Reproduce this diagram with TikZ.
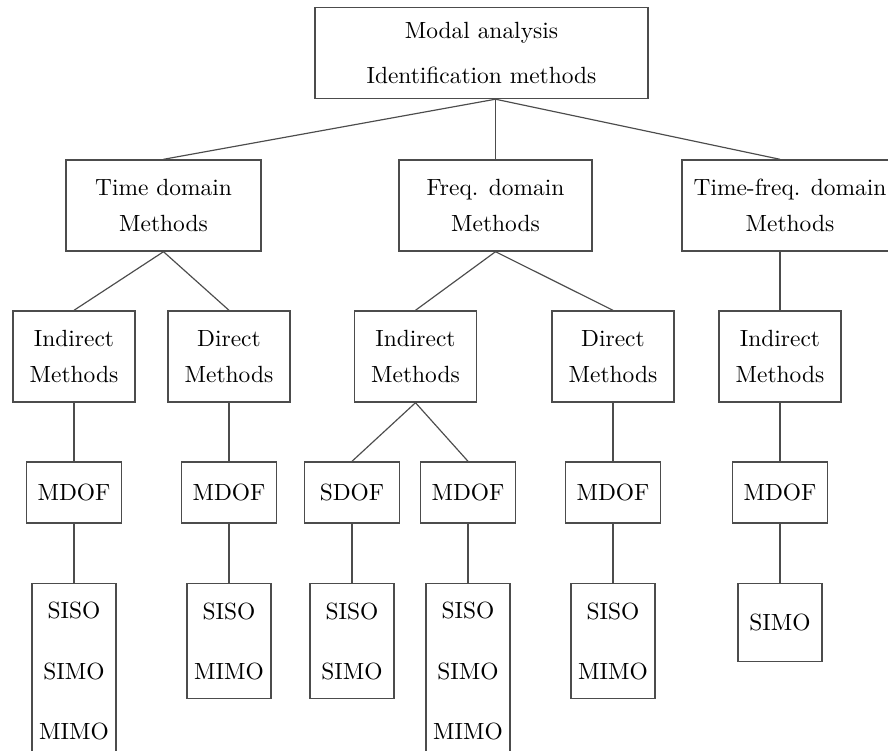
\documentclass[tikz,border=0pt]{standalone}
\begin{document}
\begin{tikzpicture}[x=0.015cm,y=-0.015cm,
    box/.style={draw=black!70,line width=0.6pt,align=center,inner sep=0pt},
    link/.style={draw=black!70,line width=0.5pt}]
    \useasboundingbox (0,0) rectangle (888,751);
    \clip (0,0) rectangle (888,751);
    % root
    \node[box,minimum width=4.995cm,minimum height=1.365cm] (top) at (481.5,53) {Modal analysis\\[7.3pt]Identification methods};
    % domains
    \node[box,minimum width=2.925cm,minimum height=1.365cm] (time) at (163.5,205.5) {Time domain\\[3.4pt]Methods};
    \node[box,minimum width=2.895cm,minimum height=1.365cm] (freq) at (495.5,205.5) {Freq. domain\\[3.4pt]Methods};
    \node[box,minimum width=3.24cm,minimum height=1.365cm] (tf) at (790,205.5) {Time-freq. domain\\[3.4pt]Methods};
    % methods
    \node[box,minimum width=1.83cm,minimum height=1.365cm] (ind1) at (74,356.5) {Indirect\\[3.4pt]Methods};
    \node[box,minimum width=1.83cm,minimum height=1.365cm] (dir1) at (229,356.5) {Direct\\[3.4pt]Methods};
    \node[box,minimum width=1.83cm,minimum height=1.365cm] (ind2) at (415.5,356.5) {Indirect\\[3.4pt]Methods};
    \node[box,minimum width=1.83cm,minimum height=1.365cm] (dir2) at (613,356.5) {Direct\\[3.4pt]Methods};
    \node[box,minimum width=1.83cm,minimum height=1.365cm] (ind3) at (780,356.5) {Indirect\\[3.4pt]Methods};
    % dof
    \node[box,minimum width=1.425cm,minimum height=0.915cm] (mdof1) at (74,492.5) {MDOF};
    \node[box,minimum width=1.425cm,minimum height=0.915cm] (mdof2) at (229,492.5) {MDOF};
    \node[box,minimum width=1.425cm,minimum height=0.915cm] (sdof) at (352,492.5) {SDOF};
    \node[box,minimum width=1.425cm,minimum height=0.915cm] (mdof3) at (468,492.5) {MDOF};
    \node[box,minimum width=1.425cm,minimum height=0.915cm] (mdof4) at (613,492.5) {MDOF};
    \node[box,minimum width=1.425cm,minimum height=0.915cm] (mdof5) at (780,492.5) {MDOF};
    % inputs/outputs
    \node[box,anchor=north,minimum width=1.26cm,minimum height=2.625cm] (io1) at (74,583) {SISO\\[13.7pt]SIMO\\[13.7pt]MIMO};
    \node[box,anchor=north,minimum width=1.26cm,minimum height=1.725cm] (io2) at (229,583) {SISO\\[13.7pt]MIMO};
    \node[box,anchor=north,minimum width=1.26cm,minimum height=1.725cm] (io3) at (352,583) {SISO\\[13.7pt]SIMO};
    \node[box,anchor=north,minimum width=1.26cm,minimum height=2.625cm] (io4) at (468,583) {SISO\\[13.7pt]SIMO\\[13.7pt]MIMO};
    \node[box,anchor=north,minimum width=1.26cm,minimum height=1.725cm] (io5) at (613,583) {SISO\\[13.7pt]MIMO};
    \node[box,anchor=north,minimum width=1.26cm,minimum height=1.17cm] (io6) at (780,583) {SIMO};
    % links
    \draw[link] (freq.north |- top.south) -- (time.north);
    \draw[link] (freq.north |- top.south) -- (freq.north);
    \draw[link] (freq.north |- top.south) -- (ind3.north |- tf.north);
    \draw[link] (time.south) -- (ind1.north);
    \draw[link] (time.south) -- (dir1.north);
    \draw[link] (freq.south) -- (ind2.north);
    \draw[link] (freq.south) -- (dir2.north);
    \draw[link] (ind3.north |- tf.south) -- (ind3.north);
    \draw[link] (ind2.south) -- (sdof.north);
    \draw[link] (ind2.south) -- (mdof3.north);
    \foreach \a/\b in {ind1/mdof1,dir1/mdof2,dir2/mdof4,ind3/mdof5,
        mdof1/io1,mdof2/io2,sdof/io3,mdof3/io4,mdof4/io5,mdof5/io6}
        \draw[link] (\a.south) -- (\b.north);
\end{tikzpicture}
\end{document}
